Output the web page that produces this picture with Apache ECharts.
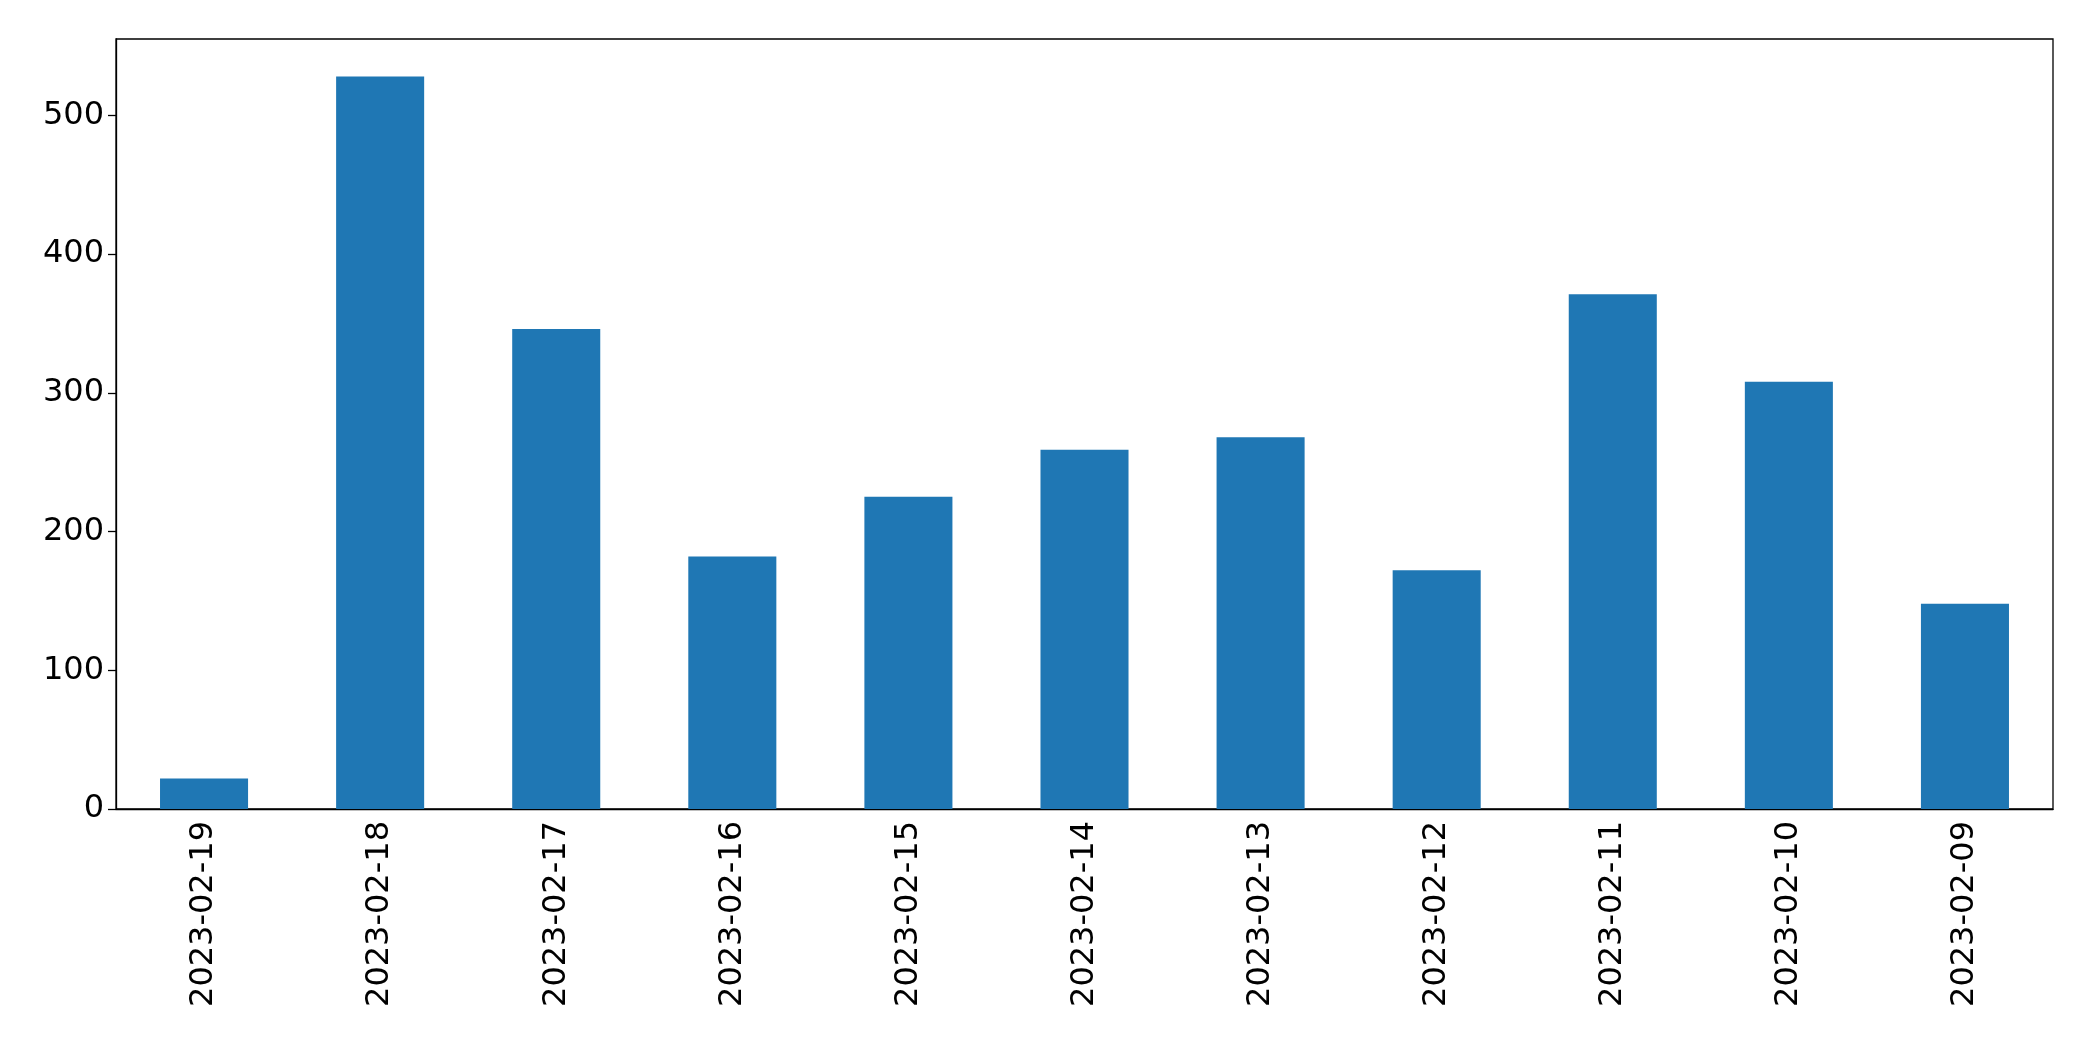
<!DOCTYPE html>
<html><head><meta charset="utf-8">
<script src="https://cdn.jsdelivr.net/npm/echarts@6/dist/echarts.min.js"></script>
<style>html,body{margin:0;padding:0;background:#fff}#c{width:2093px;height:1061px}</style>
</head><body><div id="c"></div>
<script>
const categories = ["2023-02-19","2023-02-18","2023-02-17","2023-02-16","2023-02-15","2023-02-14","2023-02-13","2023-02-12","2023-02-11","2023-02-10","2023-02-09"];
const values = [22,528,346,182,225,259,268,172,371,308,148];
const chart = echarts.init(document.getElementById('c'));
const font = "DejaVu Sans";
chart.setOption({
  animation:false,
  grid:{left:116,right:40,top:39,bottom:252,show:true,borderColor:'#000',borderWidth:1.3,backgroundColor:'transparent'},
  xAxis:{type:'category',data:categories,
    axisLine:{lineStyle:{color:'#000',width:1.3}},
    axisTick:{alignWithLabel:true,length:8,lineStyle:{color:'#000',width:1.3}},
    axisLabel:{rotate:90,fontSize:32,color:'#000',fontFamily:font,margin:12,interval:0}},
  yAxis:{type:'value',min:0,max:555,interval:100,
    axisLine:{show:true,lineStyle:{color:'#000',width:1.3}},
    axisTick:{show:true,length:8,lineStyle:{color:'#000',width:1.3}},
    splitLine:{show:false},
    axisLabel:{fontSize:32,color:'#000',fontFamily:font,margin:12,showMaxLabel:false}},
  series:[{type:'bar',data:values,barCategoryGap:'50%',itemStyle:{color:'#1f77b4'}}]
});
</script></body></html>
